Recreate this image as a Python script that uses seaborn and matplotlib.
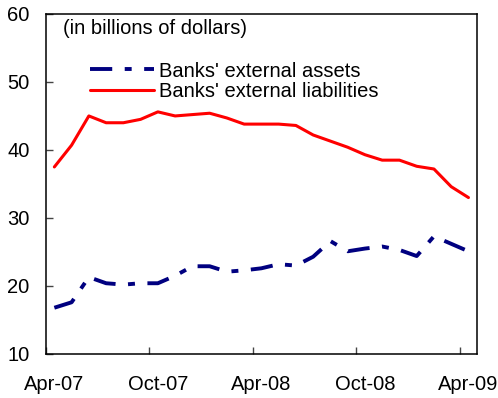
import matplotlib
matplotlib.use('Agg')
from matplotlib import pyplot as plt
import seaborn as sns
import pandas as pd

# monthly, Apr-07 .. Apr-09 (in billions of dollars)
months = ['Apr-07', 'May-07', 'Jun-07', 'Jul-07', 'Aug-07', 'Sep-07', 'Oct-07',
          'Nov-07', 'Dec-07', 'Jan-08', 'Feb-08', 'Mar-08', 'Apr-08', 'May-08',
          'Jun-08', 'Jul-08', 'Aug-08', 'Sep-08', 'Oct-08', 'Nov-08', 'Dec-08',
          'Jan-09', 'Feb-09', 'Mar-09', 'Apr-09']
assets = [16.8, 17.6, 21.3, 20.4, 20.2, 20.4, 20.4, 21.5, 22.9, 22.9, 22.1, 22.3, 22.6,
          23.2, 23.0, 24.3, 26.6, 25.1, 25.5, 25.8, 25.3, 24.4, 27.3, 26.2, 25.1]
liabilities = [37.5, 40.7, 45.0, 44.0, 44.0, 44.5, 45.6, 45.0, 45.2, 45.4, 44.7, 43.8, 43.8,
               43.8, 43.6, 42.2, 41.3, 40.4, 39.3, 38.5, 38.5, 37.6, 37.2, 34.6, 33.0]
yticks = [10, 20, 30, 40, 50, 60]

fs = 14.5

sns.set_style('white')
plt.rcParams['font.family'] = ['Liberation Sans', 'DejaVu Sans']
plt.rcParams['font.size'] = fs
plt.rcParams['text.color'] = 'black'
plt.rcParams['xtick.color'] = 'black'
plt.rcParams['ytick.color'] = 'black'
plt.rcParams['lines.scale_dashes'] = False

df = pd.DataFrame({'idx': range(len(months)), 'assets': assets, 'liabilities': liabilities})

fig = plt.figure(figsize=(4.98, 3.98), dpi=100)
ax = fig.add_axes([0.0918, 0.1106, 0.8662, 0.8544])

sns.lineplot(data=df, x='idx', y='assets', ax=ax, color='#000080', lw=2.8,
             label="Banks' external assets")
sns.lineplot(data=df, x='idx', y='liabilities', ax=ax, color='#ff0000', lw=2.2,
             label="Banks' external liabilities")
ax.lines[0].set_dashes([16, 9, 5, 9])

ax.set_xlim(-0.5, len(months) - 0.5)
ax.set_ylim(10, 60)
ax.set_yticks(yticks)
ax.set_xticks([i - 0.5 for i in range(0, len(months), 6)])
ax.set_xticklabels([])
lab_pos = list(range(0, len(months), 6))
ax.set_xticks(lab_pos, [months[i] for i in lab_pos], minor=True)
ax.tick_params(axis='x', which='major', bottom=True, direction='in', length=5, width=1,
               color='#444444')
ax.tick_params(axis='x', which='minor', bottom=True, length=0, pad=15, labelsize=fs,
               labelcolor='black')
ax.tick_params(axis='y', left=True, direction='in', length=5, width=1, color='#444444',
               pad=11.5, labelsize=fs, labelcolor='black')
ax.set_xlabel(None)
ax.set_ylabel(None)

for s in ax.spines.values():
    s.set_color('black')
    s.set_linewidth(1.1)

ax.text(0.039, 0.956, '(in billions of dollars)', transform=ax.transAxes,
        va='center', ha='left', fontsize=fs, color='black')

leg = ax.legend(loc='upper left', bbox_to_anchor=(0.103, 0.86), frameon=False,
                handlelength=3.15, handletextpad=0.25, labelspacing=0.08,
                borderpad=0, borderaxespad=0, fontsize=fs)
for t in leg.get_texts():
    t.set_color('black')

plt.savefig('out.png', dpi=100)
